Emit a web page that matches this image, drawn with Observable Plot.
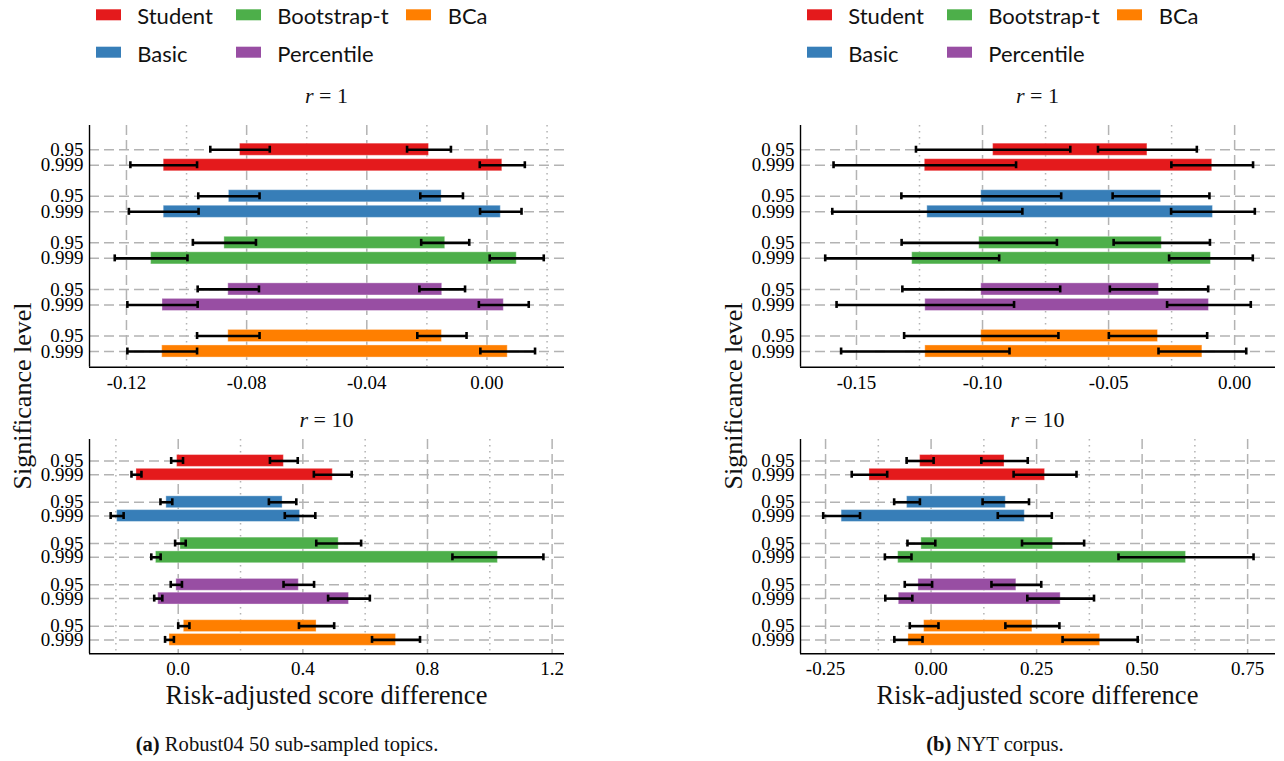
<!DOCTYPE html>
<html><head><meta charset="utf-8">
<script src="https://cdn.jsdelivr.net/npm/d3@7"></script>
<script src="https://cdn.jsdelivr.net/npm/@observablehq/plot@0.6"></script>
<style>
html,body{margin:0;padding:0;background:#fff;}
#root{position:relative;width:1284px;height:761px;overflow:hidden;}
#root svg{position:absolute;}
</style></head>
<body><div id="root"></div>
<script>
// ---------- data ----------
const methods = ["Student", "Basic", "Bootstrap-t", "Percentile", "BCa"];
const levels = ["0.95", "0.999"];
const colors = ["#e41a1c", "#377eb8", "#4daf4a", "#984ea3", "#ff7f00"];

// order in each array: Student .95, Student .999, Basic .95, Basic .999, Bootstrap-t .95, ... BCa .999
// (a) Robust04, r = 1
const aR1Lower    = [-0.0822, -0.1076, -0.0859, -0.1076, -0.0874, -0.1118, -0.0861, -0.1080, -0.0861, -0.1081];
const aR1Upper    = [-0.0193,  0.0051, -0.0151,  0.0046, -0.0139,  0.0099, -0.0149,  0.0056, -0.0150,  0.0069];
const aR1LowerErr = [0.0099, 0.0111, 0.0102, 0.0116, 0.0105, 0.0121, 0.0102, 0.0117, 0.0104, 0.0116];
const aR1UpperErr = [0.0073, 0.0075, 0.0071, 0.0069, 0.0080, 0.0090, 0.0076, 0.0083, 0.0082, 0.0091];
// (a) Robust04, r = 10
const aR10Lower    = [-0.0036, -0.134, -0.038, -0.196, 0.0071, -0.0714, -0.006, -0.064, 0.018, -0.028];
const aR10Upper    = [0.339, 0.496, 0.335, 0.391, 0.515, 1.026, 0.387, 0.548, 0.444, 0.699];
const aR10LowerErr = [0.019, 0.016, 0.019, 0.0208, 0.017, 0.015, 0.018, 0.013, 0.018, 0.0142];
const aR10UpperErr = [0.0446, 0.0607, 0.044, 0.049, 0.072, 0.146, 0.049, 0.067, 0.0565, 0.077];
// (b) NYT, r = 1
const bR1Lower    = [-0.0958, -0.1229, -0.1005, -0.1219, -0.1013, -0.1279, -0.1005, -0.1227, -0.1005, -0.1227];
const bR1Upper    = [-0.0346, -0.0089, -0.0292, -0.0086, -0.0289, -0.0094, -0.0300, -0.0102, -0.0304, -0.0128];
const bR1LowerErr = [0.0306, 0.0362, 0.0317, 0.0377, 0.0308, 0.0345, 0.0313, 0.0352, 0.0306, 0.0334];
const bR1UpperErr = [0.0196, 0.0162, 0.0192, 0.0166, 0.0191, 0.0166, 0.0195, 0.0166, 0.0195, 0.0174];
// (b) NYT, r = 10
const bR10Lower    = [-0.026, -0.146, -0.057, -0.212, -0.023, -0.078, -0.030, -0.0765, -0.0165, -0.0537];
const bR10Upper    = [0.174, 0.270, 0.177, 0.222, 0.289, 0.604, 0.202, 0.307, 0.240, 0.4005];
const bR10LowerErr = [0.032, 0.042, 0.0305, 0.0436, 0.033, 0.0315, 0.0324, 0.032, 0.034, 0.0334];
const bR10UpperErr = [0.055, 0.0745, 0.055, 0.064, 0.0736, 0.160, 0.059, 0.079, 0.064, 0.089];

// axis ticks
const aR1Major = [-0.12, -0.08, -0.04, 0.00],  aR1Minor = [-0.10, -0.06, -0.02, 0.02];
const aR10Major = [0.0, 0.4, 0.8, 1.2],         aR10Minor = [-0.2, 0.2, 0.6, 1.0];
const bR1Major = [-0.15, -0.10, -0.05, 0.00],   bR1Minor = [-0.125, -0.075, -0.025];
const bR10Major = [-0.25, 0.00, 0.25, 0.50, 0.75], bR10Minor = [-0.125, 0.125, 0.375, 0.625];

const xLabel = "Risk-adjusted score difference";
const yLabel = "Significance level";
const captions = [["(a)", " Robust04 50 sub-sampled topics."], ["(b)", " NYT corpus."]];

// ---------- helpers ----------
const rowPos = [0, 1, 3, 4, 6, 7, 9, 10, 12, 13];
const yDom = [-1.56, 14.01];
function rows(lo, hi, loE, hiE) {
  return methods.flatMap((m, i) => levels.map((l, j) => {
    const k = i * 2 + j;
    return {method: m, level: l, pos: i * 3 + j, lo: lo[k], hi: hi[k], loE: loE[k], hiE: hiE[k]};
  }));
}
const GRID = "#b3b3b3";
function subplot({data, xDomain, major, minor, fmt, plotH, barHalf, capHalf, left, top}) {
  const caps = data.flatMap(d => [d.lo - d.loE, d.lo + d.loE, d.hi - d.hiE, d.hi + d.hiE].map(x => ({x, pos: d.pos})));
  const svg = Plot.plot({
    width: 600, height: 10 + plotH + 30,
    marginLeft: 89, marginRight: 36, marginTop: 10, marginBottom: 30,
    style: {fontFamily: "'Liberation Serif', serif", fontSize: "19px", color: "black", background: "transparent", overflow: "visible"},
    x: {domain: xDomain, label: null},
    y: {domain: yDom, reverse: true, label: null},
    color: {domain: methods, range: colors},
    marks: [
      Plot.ruleX(minor, {stroke: GRID, strokeWidth: 1.5, strokeDasharray: "1.5,4.5"}),
      Plot.ruleX(major, {stroke: GRID, strokeWidth: 1.5, strokeDasharray: "10,5"}),
      Plot.ruleY(rowPos, {stroke: GRID, strokeWidth: 1.5, strokeDasharray: "10,5"}),
      Plot.rect(data, {x1: "lo", x2: "hi", y1: d => d.pos - barHalf, y2: d => d.pos + barHalf, fill: "method", stroke: "white", strokeOpacity: 0.35, strokeWidth: 1}),
      Plot.ruleY(data, {x1: d => d.lo - d.loE, x2: d => d.lo + d.loE, y: "pos", stroke: "black", strokeWidth: 2.6}),
      Plot.ruleY(data, {x1: d => d.hi - d.hiE, x2: d => d.hi + d.hiE, y: "pos", stroke: "black", strokeWidth: 2.6}),
      Plot.ruleX(caps, {x: "x", y1: d => d.pos - capHalf, y2: d => d.pos + capHalf, stroke: "black", strokeWidth: 2.6}),
      Plot.axisX({ticks: major, tickFormat: fmt, tickSize: 0, tickPadding: 8, label: null}),
      Plot.axisY({ticks: rowPos, tickFormat: p => levels[p % 3], tickSize: 0, tickPadding: 6, label: null}),
      Plot.ruleX([xDomain[0]], {stroke: "black", strokeWidth: 1.4}),
      Plot.ruleY([yDom[1]], {stroke: "black", strokeWidth: 1.4})
    ]
  });
  svg.style.left = left + "px";
  svg.style.top = top + "px";
  document.getElementById("root").appendChild(svg);
}
const f2 = d => d.toFixed(2), f1 = d => d.toFixed(1);

const panels = [
  {ox: 0, capX: 287,
   r1: {data: rows(aR1Lower, aR1Upper, aR1LowerErr, aR1UpperErr), xDomain: [-0.1323, 0.0258], major: aR1Major, minor: aR1Minor, fmt: f2},
   r10: {data: rows(aR10Lower, aR10Upper, aR10LowerErr, aR10UpperErr), xDomain: [-0.2847, 1.2397], major: aR10Major, minor: aR10Minor, fmt: f1}},
  {ox: 711, capX: 995,
   r1: {data: rows(bR1Lower, bR1Upper, bR1LowerErr, bR1UpperErr), xDomain: [-0.1722, 0.0162], major: bR1Major, minor: bR1Minor, fmt: f2},
   r10: {data: rows(bR10Lower, bR10Upper, bR10LowerErr, bR10UpperErr), xDomain: [-0.3094, 0.816], major: bR10Major, minor: bR10Minor, fmt: f2}}
];

for (const p of panels) {
  subplot({...p.r1, plotH: 241.7, barHalf: 0.39, capHalf: 0.225, left: p.ox, top: 115});
  subplot({...p.r10, plotH: 214.3, barHalf: 0.43, capHalf: 0.253, left: p.ox, top: 429});
}

// ---------- annotations overlay ----------
const SERIF = "'Liberation Serif', 'Times New Roman', serif";
const ov = d3.select("#root").append("svg").attr("width", 1284).attr("height", 761)
  .style("left", "0px").style("top", "0px");
const legSwX = [96, 236, 406], legTxX = [137.3, 277.3, 447.7], legSwY = [9.3, 46.7], legTxY = [24.3, 62.3];
for (const p of panels) {
  const g = ov.append("g").attr("transform", `translate(${p.ox},0)`);
  methods.forEach((m, i) => {
    const c = Math.floor(i / 2), r = i % 2;
    g.append("rect").attr("x", legSwX[c]).attr("y", legSwY[r]).attr("width", 25).attr("height", 11).attr("fill", colors[i]);
    g.append("text").attr("x", legTxX[c]).attr("y", legTxY[r]).attr("font-family", "Lato, sans-serif").attr("font-size", 22).attr("fill", "#111").text(m);
  });
  [["1", 103.3], ["10", 426.7]].forEach(([v, y]) => {
    const t = g.append("text").attr("x", 326.5).attr("y", y).attr("text-anchor", "middle")
      .attr("font-family", SERIF).attr("font-size", 22).attr("fill", "#111");
    t.append("tspan").attr("font-style", "italic").text("r");
    t.append("tspan").text(" = " + v);
  });
  g.append("text").attr("transform", "translate(31,396) rotate(-90)").attr("text-anchor", "middle")
    .attr("font-family", SERIF).attr("font-size", 26).attr("fill", "#111").text(yLabel);
  g.append("text").attr("x", 326.5).attr("y", 704).attr("text-anchor", "middle")
    .attr("font-family", SERIF).attr("font-size", 26.5).attr("fill", "#111").text(xLabel);
}
captions.forEach(([b, rest], i) => {
  const t = ov.append("text").attr("x", panels[i].capX).attr("y", 751).attr("text-anchor", "middle")
    .attr("font-family", SERIF).attr("font-size", 20.6).attr("fill", "#111");
  t.append("tspan").attr("font-weight", "bold").text(b);
  t.append("tspan").text(rest);
});
</script>
</body></html>
